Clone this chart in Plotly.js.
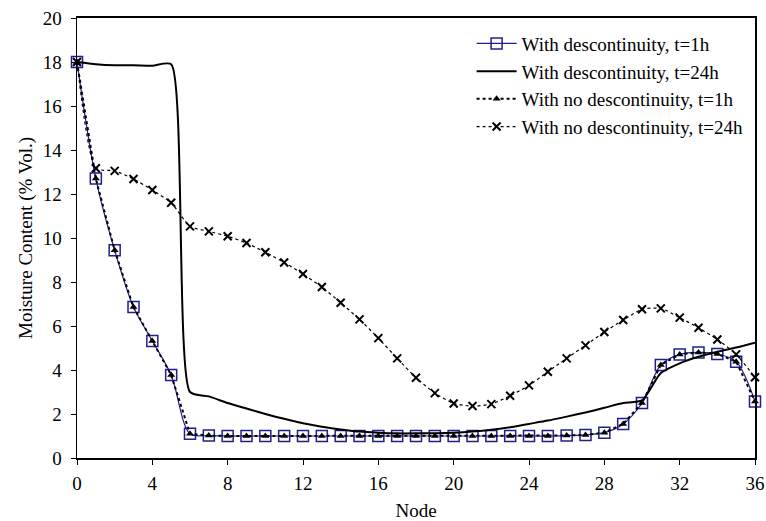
<!DOCTYPE html>
<html>
<head>
<meta charset="utf-8">
<script src="https://cdn.plot.ly/plotly-3.0.1.min.js"></script>
<style>html,body{margin:0;padding:0;background:#fff;}#chart{width:766px;height:521px;}</style>
</head>
<body>
<div id="chart"></div>
<script>
const nodes = [0,1,2,3,4,5,6,7,8,9,10,11,12,13,14,15,16,17,18,19,20,21,22,23,24,25,26,27,28,29,30,31,32,33,34,35,36];
const discT1 = [18.0,12.7,9.44,6.86,5.32,3.77,1.1,1.02,1.0,1.0,1.0,1.0,1.0,1.0,1.0,1.0,1.0,1.0,1.0,1.0,1.0,1.0,1.0,1.0,1.0,1.0,1.02,1.05,1.15,1.55,2.5,4.23,4.71,4.8,4.73,4.38,2.57];
const discT24 = [18.0,17.9,17.85,17.85,17.83,17.9,3.0,2.8,2.5,2.25,2.0,1.78,1.58,1.42,1.3,1.2,1.15,1.12,1.12,1.13,1.15,1.2,1.28,1.4,1.55,1.7,1.88,2.07,2.28,2.5,2.62,3.86,4.3,4.6,4.83,5.02,5.24];
const noDiscT1 = [18.0,12.7,9.44,6.86,5.32,3.77,1.1,1.02,1.0,1.0,1.0,1.0,1.0,1.0,1.0,1.0,1.0,1.0,1.0,1.0,1.0,1.0,1.0,1.0,1.0,1.0,1.02,1.05,1.15,1.55,2.5,4.23,4.71,4.8,4.73,4.38,2.57];
const noDiscT24 = [18.0,13.17,13.05,12.68,12.18,11.6,10.53,10.3,10.08,9.77,9.35,8.89,8.36,7.77,7.06,6.3,5.45,4.53,3.65,2.95,2.48,2.36,2.45,2.83,3.3,3.92,4.53,5.12,5.73,6.27,6.76,6.8,6.38,5.92,5.39,4.71,3.67];
const names = ["With descontinuity, t=1h","With descontinuity, t=24h","With no descontinuity, t=1h","With no descontinuity, t=24h"];

const navy = "#1f1f8f";
const traces = [
  {x: nodes, y: discT1, name: names[0], mode: "lines+markers", cliponaxis: false,
   line: {color: navy, width: 1.2, shape: "spline", smoothing: 0.9},
   marker: {symbol: "square-open", size: 11, color: navy, line: {width: 1.5, color: navy}}},
  {x: nodes, y: discT24, name: names[1], mode: "lines", cliponaxis: false,
   line: {color: "#000", width: 2, shape: "spline", smoothing: 0.6}},
  {x: nodes, y: noDiscT1, name: names[2], mode: "lines+markers", cliponaxis: false,
   line: {color: "#000", width: 2, dash: "dot"},
   marker: {symbol: "triangle-up", size: 7, color: "#000"}},
  {x: nodes, y: noDiscT24, name: names[3], mode: "lines+markers", cliponaxis: false,
   line: {color: "#000", width: 1.2, dash: "dot", shape: "spline", smoothing: 0.6},
   marker: {symbol: "x-thin-open", size: 8, color: "#000", line: {width: 2, color: "#000"}}}
];

const font = {family: "Liberation Serif, Times New Roman, serif", size: 19, color: "#000"};
const layout = {
  width: 766, height: 521,
  margin: {l: 77, r: 11, t: 18, b: 63},
  paper_bgcolor: "#fff", plot_bgcolor: "#fff",
  font: font,
  showlegend: true,
  legend: {x: 0.582, y: 0.985, xanchor: "left", yanchor: "top", bgcolor: "rgba(0,0,0,0)",
           font: {family: font.family, size: 19, color: "#000"}, tracegroupgap: 0, itemwidth: 40},
  xaxis: {range: [0, 36], dtick: 4, tick0: 0, showgrid: false, zeroline: false,
          showline: true, linecolor: "#000", linewidth: 2, mirror: true,
          ticks: "outside", ticklen: 5, tickcolor: "#000", tickwidth: 1, ticklabelstandoff: 2,
          tickfont: font, title: {text: "Node", font: font, standoff: 12}},
  yaxis: {range: [0, 20], dtick: 2, tick0: 0, showgrid: false, zeroline: false,
          showline: true, linecolor: "#000", linewidth: 1.5, mirror: true,
          ticks: "outside", ticklen: 5, tickcolor: "#000", tickwidth: 1, ticklabelstandoff: 5,
          tickfont: font, title: {text: "Moisture Content (% Vol.)", font: font, standoff: 5}}
};
Plotly.newPlot("chart", traces, layout, {displayModeBar: false, staticPlot: true});
</script>
</body>
</html>
